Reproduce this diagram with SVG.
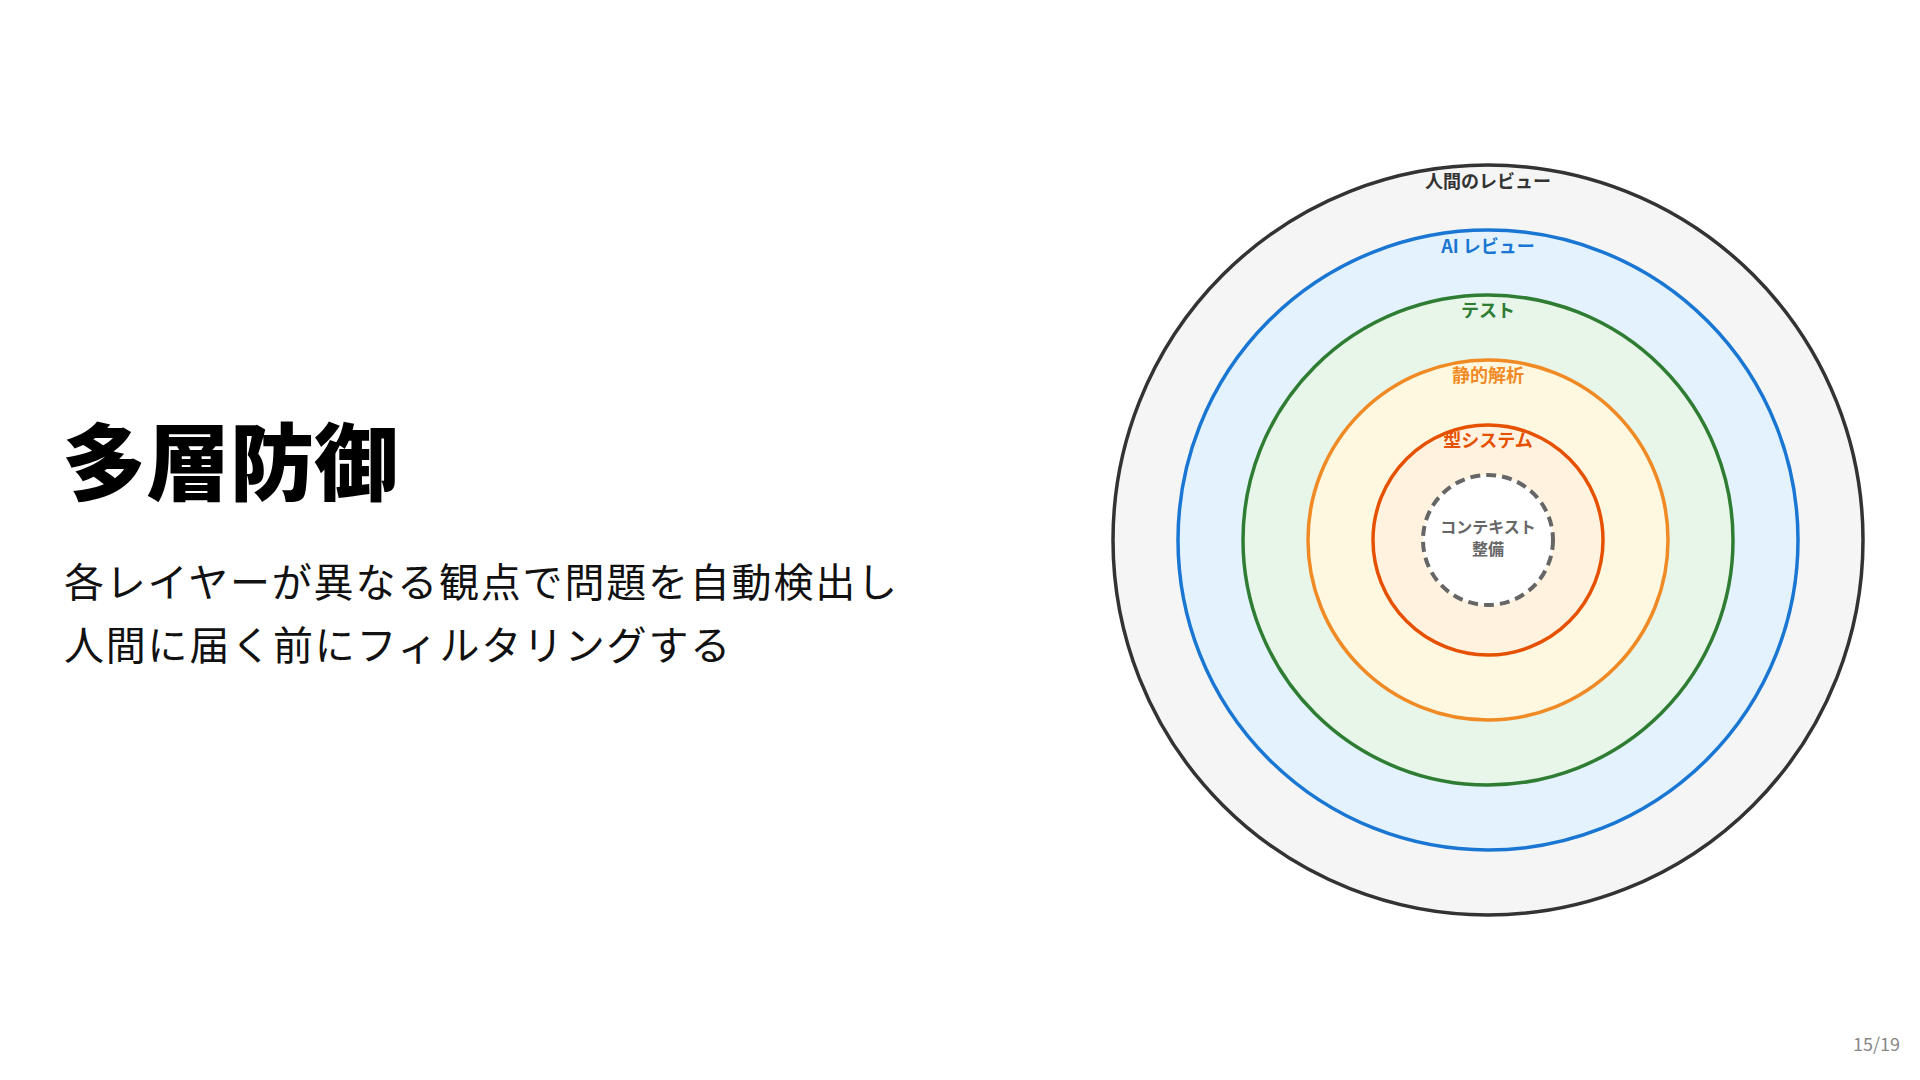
<svg xmlns="http://www.w3.org/2000/svg" width="1920" height="1080" viewBox="0 0 1920 1080">
<style>
text{font-family:"Noto Sans CJK JP","Noto Sans",sans-serif}
.lbl{font-size:18px;font-weight:700;text-anchor:middle}
.ring{stroke-width:3.5}
</style>
<rect width="1920" height="1080" fill="#ffffff"/>
<g id="title">
<text x="62" y="494" font-size="84" font-weight="900" fill="#000">多層防御</text>
</g>
<g id="body" font-size="40" fill="#111" letter-spacing="1.8">
<text x="64" y="597">各レイヤーが異なる観点で問題を自動検出し</text>
<text x="64" y="660">人間に届く前にフィルタリングする</text>
</g>
<g id="layer-human">
<circle class="ring" cx="1488" cy="540" r="375" fill="#f5f5f5" stroke="#333"/>
<text class="lbl" x="1488" y="188" fill="#333">人間のレビュー</text>
</g>
<g id="layer-ai">
<circle class="ring" cx="1488" cy="540" r="310" fill="#e3f2fd" stroke="#1976d2"/>
<text class="lbl" x="1488" y="253" fill="#1976d2">AI レビュー</text>
</g>
<g id="layer-test">
<circle class="ring" cx="1488" cy="540" r="245" fill="#e8f5e9" stroke="#2e7d32"/>
<text class="lbl" x="1488" y="317" fill="#2e7d32">テスト</text>
</g>
<g id="layer-static">
<circle class="ring" cx="1488" cy="540" r="180" fill="#fff8e1" stroke="#f08a24"/>
<text class="lbl" x="1488" y="382" fill="#f08a24">静的解析</text>
</g>
<g id="layer-type">
<circle class="ring" cx="1488" cy="540" r="115" fill="#fff3e0" stroke="#e65100"/>
<text class="lbl" x="1488" y="447" fill="#e65100">型システム</text>
</g>
<g id="layer-context">
<circle cx="1488" cy="540" r="65" fill="#ffffff" stroke="#666" stroke-width="4" stroke-dasharray="10 6"/>
<text x="1488" y="533" font-size="16" font-weight="700" fill="#666" text-anchor="middle">コンテキスト</text>
<text x="1488" y="555" font-size="16" font-weight="700" fill="#666" text-anchor="middle">整備</text>
</g>
<g id="connectors"/>
<g id="page">
<text x="1900" y="1051" font-size="18" fill="#888" text-anchor="end">15/19</text>
</g>
</svg>
